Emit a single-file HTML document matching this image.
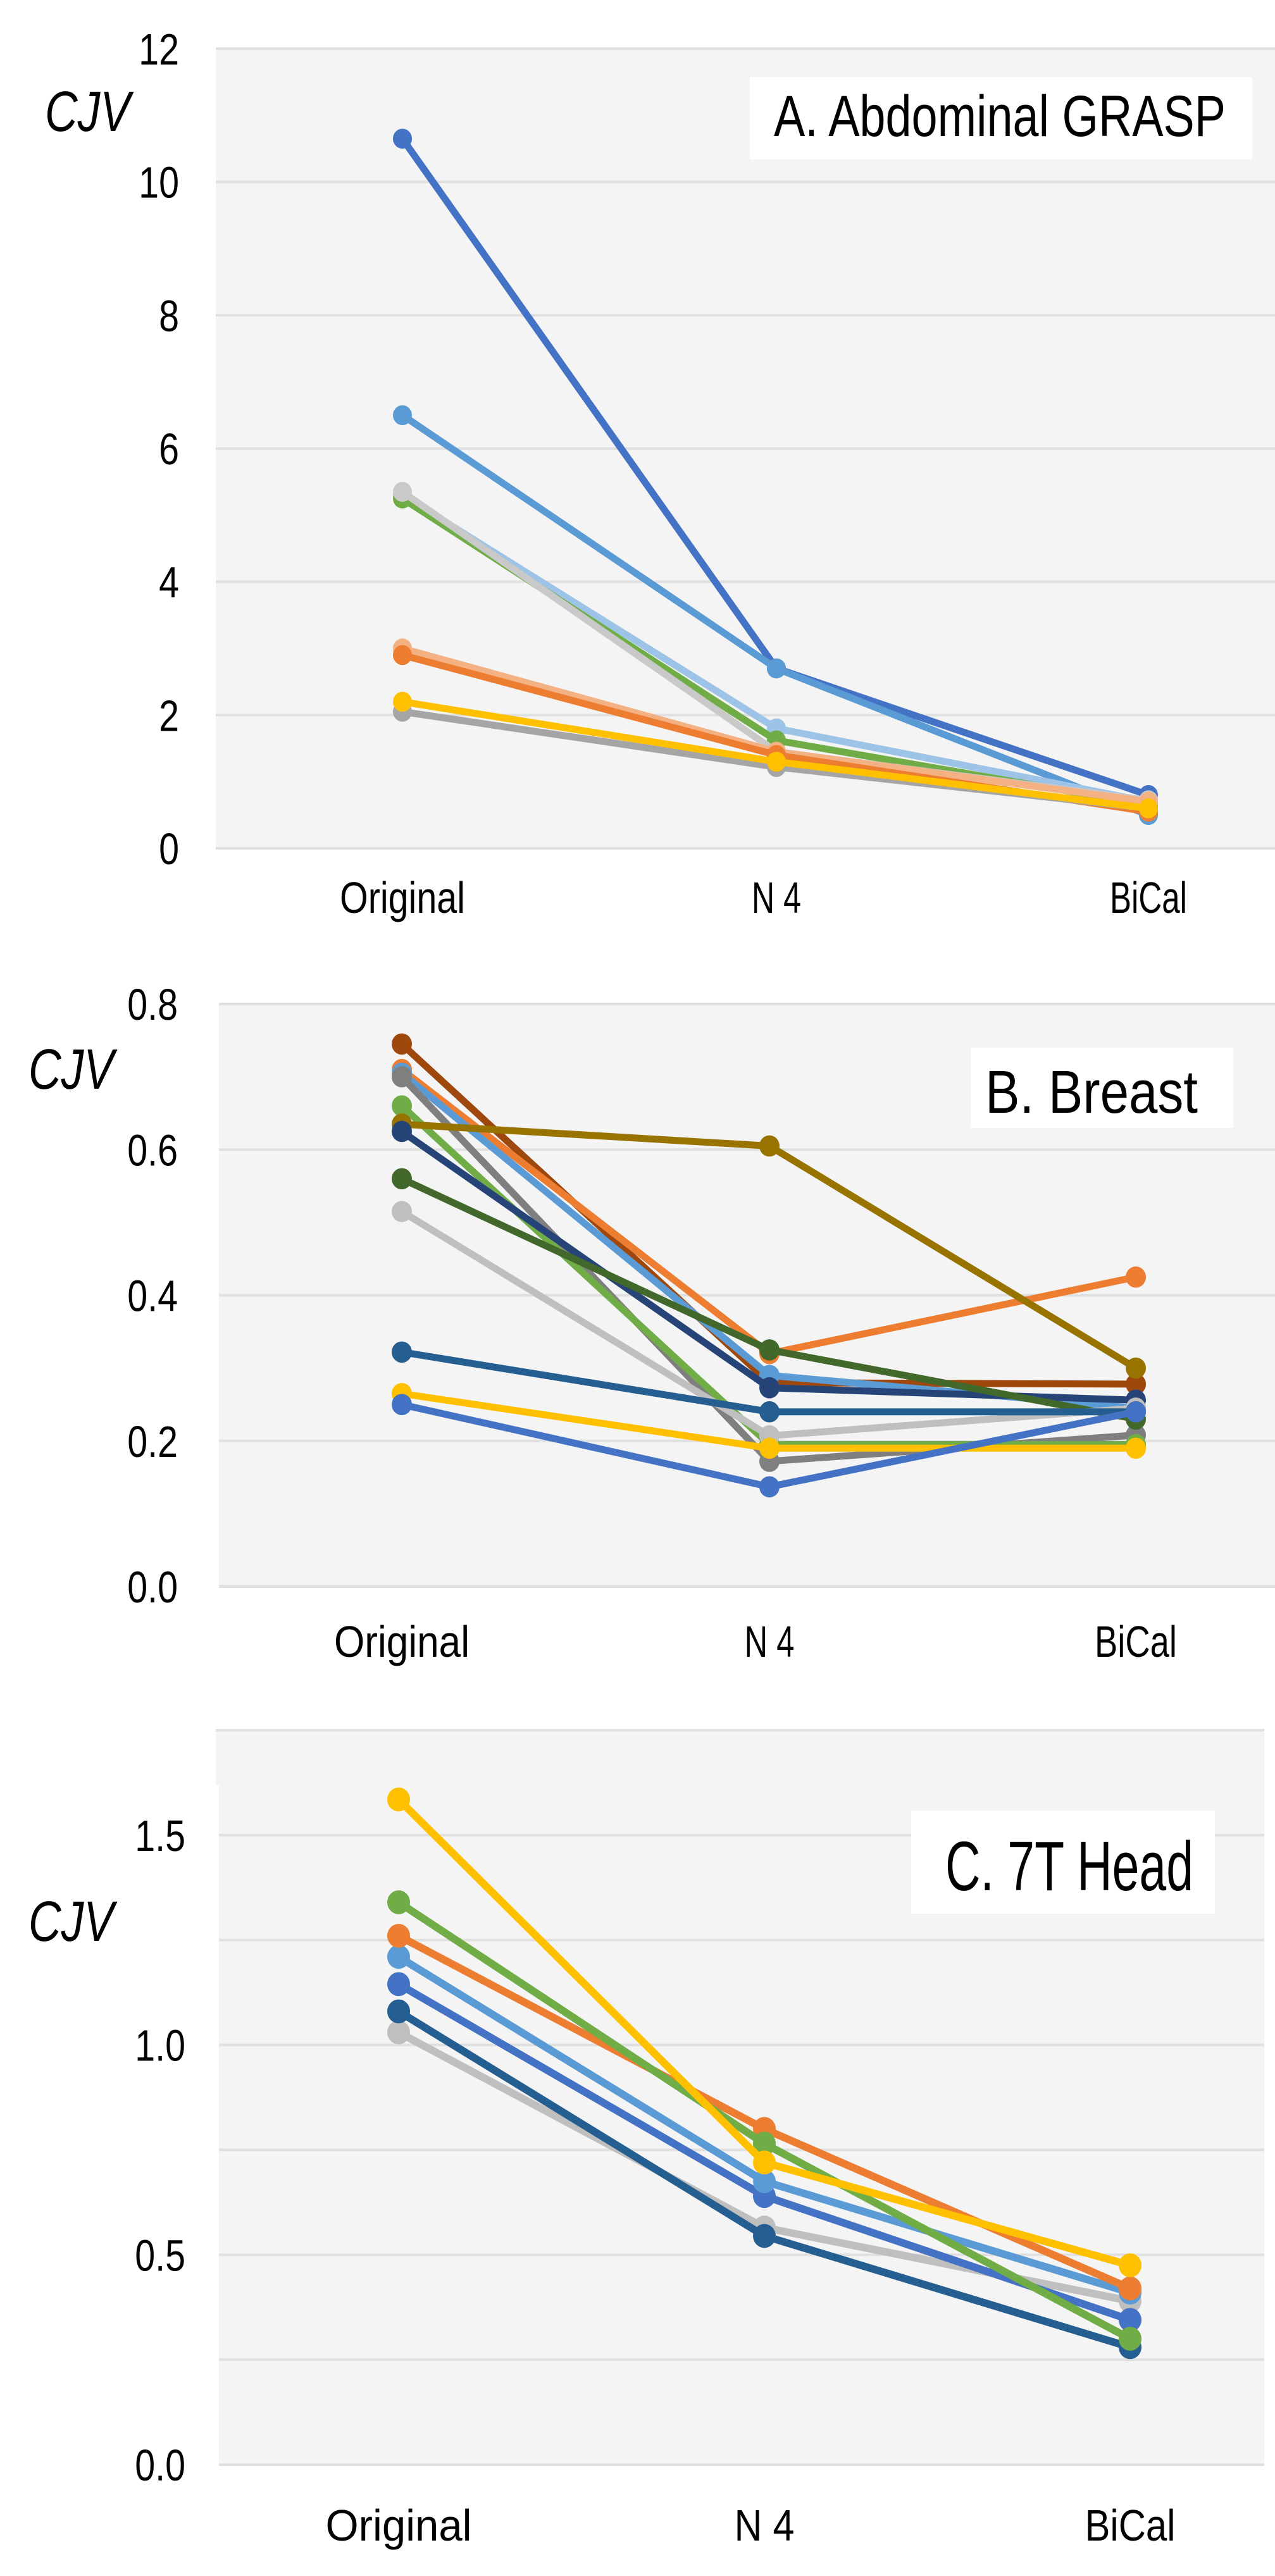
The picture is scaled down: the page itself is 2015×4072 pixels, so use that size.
<!DOCTYPE html>
<html><head><meta charset="utf-8">
<style>
html,body{margin:0;padding:0;background:#fff;}
svg{display:block;}
text{font-family:"Liberation Sans Narrow","Liberation Sans",sans-serif;fill:#000;}
</style></head>
<body>
<svg id="chart" width="2015" height="4072" viewBox="0 0 2015 4072" xmlns="http://www.w3.org/2000/svg"></svg>
<script>
const categories = ["Original", "N 4", "BiCal"];

// Panel A: Abdominal GRASP
const aTicks = [0, 2, 4, 6, 8, 10, 12];
const aColors = ["#4472C4","#5B9BD5","#9DC3E6","#70AD47","#C9C9C9","#F4B183","#ED7D31","#A5A5A5","#FFC000"];
const aSeries1 = [10.65, 2.7, 0.8];
const aSeries2 = [6.5, 2.7, 0.5];
const aSeries3 = [5.3, 1.8, 0.7];
const aSeries4 = [5.25, 1.62, 0.65];
const aSeries5 = [5.35, 1.45, 0.72];
const aSeries6 = [3.0, 1.45, 0.7];
const aSeries7 = [2.9, 1.4, 0.55];
const aSeries8 = [2.05, 1.22, 0.6];
const aSeries9 = [2.2, 1.3, 0.6];

// Panel B: Breast
const bTicks = [0.0, 0.2, 0.4, 0.6, 0.8];
const bTickLabels = ["0.0","0.2","0.4","0.6","0.8"];
const bColors = ["#9E480E","#ED7D31","#5B9BD5","#7F7F7F","#70AD47","#997300","#264478","#43682B","#BFBFBF","#255E91","#FFC000","#4472C4"];
const bSeries1 = [0.745, 0.28, 0.278];
const bSeries2 = [0.71, 0.32, 0.425];
const bSeries3 = [0.705, 0.29, 0.245];
const bSeries4 = [0.70, 0.172, 0.208];
const bSeries5 = [0.66, 0.195, 0.195];
const bSeries6 = [0.635, 0.605, 0.30];
const bSeries7 = [0.625, 0.273, 0.256];
const bSeries8 = [0.56, 0.325, 0.23];
const bSeries9 = [0.515, 0.207, 0.245];
const bSeries10 = [0.322, 0.24, 0.24];
const bSeries11 = [0.265, 0.19, 0.19];
const bSeries12 = [0.25, 0.137, 0.24];

// Panel C: 7T Head
const cTicks = [0.0, 0.25, 0.5, 0.75, 1.0, 1.25, 1.5, 1.75];
const cTickLabels = ["0.0","","0.5","","1.0","","1.5",""];
const cColors = ["#BFBFBF","#255E91","#4472C4","#5B9BD5","#ED7D31","#70AD47","#FFC000"];
const cSeries1 = [1.03, 0.565, 0.39];
const cSeries2 = [1.08, 0.545, 0.28];
const cSeries3 = [1.145, 0.64, 0.345];
const cSeries4 = [1.21, 0.675, 0.41];
const cSeries5 = [1.26, 0.80, 0.42];
const cSeries6 = [1.34, 0.765, 0.30];
const cSeries7 = [1.585, 0.72, 0.475];

const NS = "http://www.w3.org/2000/svg";
const svg = document.getElementById("chart");
function mk(tag, attrs, parent){
  const e = document.createElementNS(NS, tag);
  for (const k in attrs) e.setAttribute(k, attrs[k]);
  (parent||svg).appendChild(e);
  return e;
}

function drawPanel(p){
  const g = mk("g", {});
  
  
  const y = v => p.y0 + (v - p.vmin) / (p.vmax - p.vmin) * (p.y1 - p.y0);
  const x = i => p.xs[i];
  const bg = mk("rect", {x:p.left, y:y(p.vmax), width:p.right-p.left, height:y(p.vmin)-y(p.vmax), fill:"#F4F4F4"}, g);
  
  
  p.ticks.forEach((t, i) => {
    const gl = mk("line", {x1:p.left, x2:p.right, y1:y(t), y2:y(t), stroke:"#E0E0E0", "stroke-width":4}, g);
    
    
    const lab = p.tickLabels[i];
    if (lab) {
      const tx = mk("text", {transform:"translate(" + p.tickX + "," + (y(t)+25) + ") scale(0.82,1)", "text-anchor":"end", "font-size":70}, g);
      tx.textContent = lab;
      
      
    }
  });
  categories.forEach((c, i) => {
    const w = p.catW[i];
    const tx = mk("text", {x:p.xs[i]-w/2, y:p.catY, "font-size":70, textLength:w, lengthAdjust:"spacingAndGlyphs"}, g);
    tx.textContent = c;
    
    
  });
  p.series.forEach((s, si) => {
    const col = p.colors[si];
    const sg = mk("g", {}, g);
    
    
    const pts = s.map((v, i) => x(i) + "," + y(v)).join(" ");
    const pl = mk("polyline", {points:pts, fill:"none", stroke:col, "stroke-width":p.lw, "stroke-linejoin":"round"}, sg);
    
    
    s.forEach((v, i) => {
      const m = mk("ellipse", {cx:x(i), cy:y(v), rx:p.r, ry:p.r*1.05, fill:col}, sg);
      
      
    });
  });
  const tb = mk("rect", {x:p.tbox[0], y:p.tbox[1], width:p.tbox[2], height:p.tbox[3], fill:"#FFFFFF"}, g);
  
  
  const tt = mk("text", {x:p.title[1], y:p.title[2], "font-size":p.title[4], textLength:p.title[3], lengthAdjust:"spacingAndGlyphs"}, g);
  tt.textContent = p.title[0];
  
  
  const yl = mk("text", {x:p.cjv[0], y:p.cjv[1], "font-size":90, "font-style":"italic", textLength:p.cjv[2], lengthAdjust:"spacingAndGlyphs"}, g);
  yl.textContent = "CJV";
  
  
}

drawPanel({
  name:"panel-a-abdominal-grasp", vmin:0, vmax:12, y0:1341, y1:77, left:341, right:2015,
  xs:[636,1227,1815], ticks:aTicks, tickLabels:aTicks.map(String), tickX:283,
  catY:1443, catW:[198,78,122], colors:aColors, lw:11, r:15,
  series:[aSeries1,aSeries2,aSeries3,aSeries4,aSeries5,aSeries6,aSeries7,aSeries8,aSeries9],
  tbox:[1185,122,794,130], title:["A.  Abdominal GRASP",1223,215,714,92], cjv:[71,207,135]
});
drawPanel({
  name:"panel-b-breast", vmin:0, vmax:0.8, y0:2508, y1:1587, left:346, right:2015,
  xs:[635,1216,1795], ticks:bTicks, tickLabels:bTickLabels, tickX:281,
  catY:2619, catW:[214,79,130], colors:bColors, lw:11, r:16,
  series:[bSeries1,bSeries2,bSeries3,bSeries4,bSeries5,bSeries6,bSeries7,bSeries8,bSeries9,bSeries10,bSeries11,bSeries12],
  tbox:[1534,1656,415,127], title:["B. Breast",1557,1759,336,96], cjv:[45,1721,135]
});
drawPanel({
  name:"panel-c-7t-head", vmin:0, vmax:1.75, y0:3896, y1:2735, left:341, right:1998,
  xs:[630,1208,1786], ticks:cTicks, tickLabels:cTickLabels, tickX:293,
  catY:4016, catW:[231,95,143], colors:cColors, lw:12, r:18,
  series:[cSeries1,cSeries2,cSeries3,cSeries4,cSeries5,cSeries6,cSeries7],
  tbox:[1440,2862,480,163], title:["C. 7T Head",1494,2988,392,110], cjv:[45,3068,135]
});
const notch = mk("rect", {x:341, y:2822, width:5, height:1080, fill:"#FFFFFF"});


</script>
</body></html>
